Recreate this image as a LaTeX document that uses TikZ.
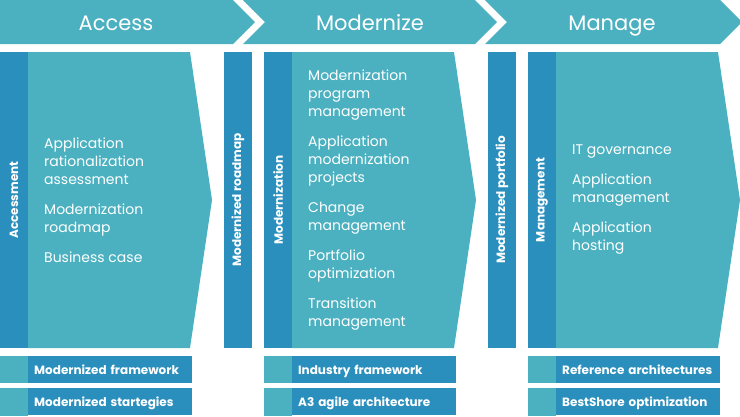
\documentclass[tikz,border=0pt]{standalone}
\usepackage{fontspec}
\setmainfont{Poppins}
\usetikzlibrary{positioning}
\definecolor{lightteal}{RGB}{75,177,192}
\definecolor{darkblue}{RGB}{43,143,189}

\begin{document}
\begin{tikzpicture}[
    x=1pt,
    y=-1pt,
    every node/.style={
      text=white,
      inner sep=0pt
    },
    header/.style={
      anchor=base,
      font=\fontsize{21}{24}\selectfont
    },
    strip/.style={
      fill=darkblue,
      rotate=90,
      minimum width=296pt,
      minimum height=28pt,
      font=\bfseries\fontsize{12}{14}\selectfont
    },
    items/.style={
      anchor=west,
      align=left,
      font=\fontsize{14}{18}\selectfont
    },
    tag/.style={
      fill=darkblue,
      minimum width=164pt,
      minimum height=27pt,
      anchor=north west,
      text width=152pt,
      text height=10pt,
      text depth=0pt,
      font=\bfseries\fontsize{12}{14}\selectfont
    }
    ]
    \useasboundingbox (0,0) rectangle (740,416);

    % header arrows
    \fill[lightteal] (0,0) -- (233,0) -- (255,22) -- (233,44) -- (0,44) -- cycle;
    \fill[lightteal] (243,0) -- (475,0) -- (497,22) -- (475,44) -- (243,44) -- (265,22) -- cycle;
    \fill[lightteal] (485,0) -- (720,0) -- (742,22) -- (720,44) -- (485,44) -- (507,22) -- cycle;
    \node[header] (acc) at (116,30) {Access};
    \node[header] (mod) at (370,30) {Modernize};
    \node[header] (man) at (612,30) {Manage};

    % phase bodies
    \foreach \x in {0,264,528}{
      \fill[lightteal] (\x+28,52) -- (\x+190,52) -- (\x+212,200) -- (\x+190,348) -- (\x+28,348) -- cycle;
    }
    \node[strip] (accstrip) at (14,200) {Accessment};
    \node[strip] (roadmap) at (238,200) {Modernized roadmap};
    \node[strip] (modstrip) at (278,200) {Modernization};
    \node[strip] (portfolio) at (502,200) {Modernized portfolio};
    \node[strip] (manstrip) at (542,200) {Management};

    \node[items] (acctext) at (44,200) {Application\\rationalization\\assessment\\[12pt]
      Modernization\\roadmap\\[12pt]Business case};
    \node[items] (modtext) at (308,200) {Modernization\\program\\management\\[12pt]
      Application\\modernization\\projects\\[12pt]Change\\management\\[12pt]
      Portfolio\\optimization\\[12pt]Transition\\management};
    \node[items] (mantext) at (572,200) {IT governance\\[12pt]Application\\management\\[12pt]
      Application\\hosting};

    % bottom tags
    \foreach \x/\n/\a/\b in {0/acc/Modernized framework/Modernized startegies,
      264/mod/Industry framework/A3 agile architecture,
      528/man/Reference architectures/BestShore optimization}{
      \fill[lightteal] (\x,356) rectangle (\x+28,383);
      \fill[lightteal] (\x,388) rectangle (\x+28,416);
      \node[tag] (\n tagA) at (\x+28,356) {\a};
      \node[tag] (\n tagB) at (\x+28,388) {\b};
    }
  \end{tikzpicture}
\end{document}
